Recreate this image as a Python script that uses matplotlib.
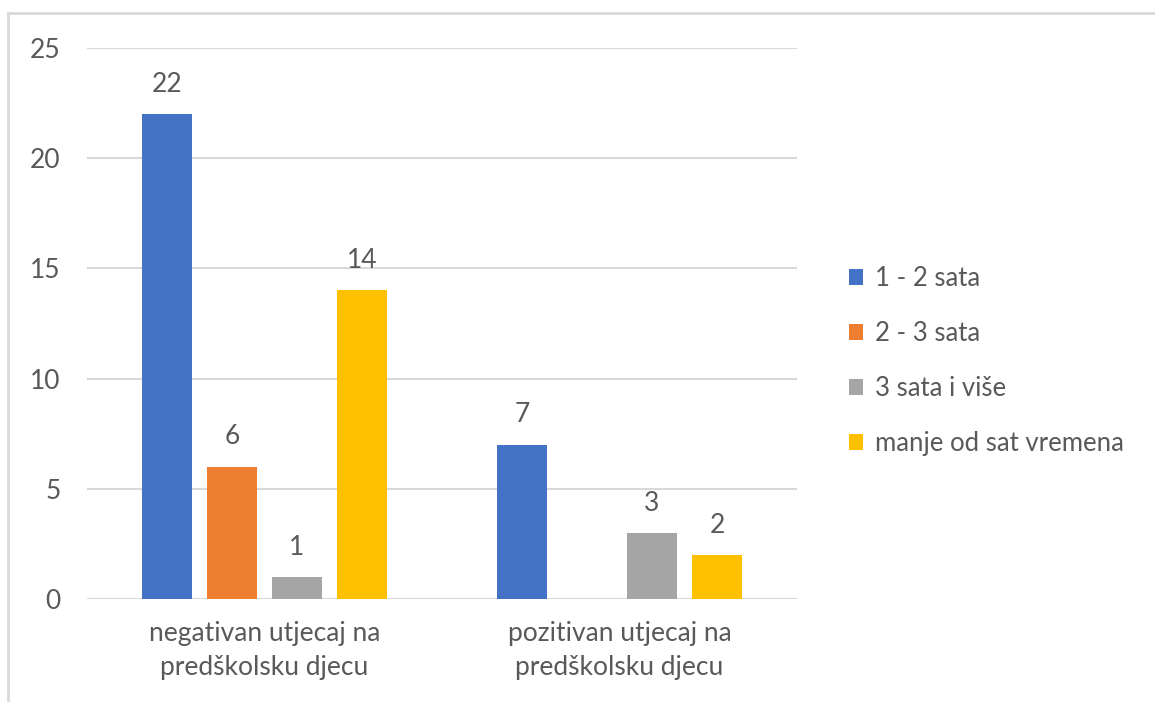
import matplotlib
matplotlib.use("Agg")
import matplotlib.pyplot as plt
import numpy as np
from matplotlib.patches import Rectangle

categories = ["negativan utjecaj na\npredškolsku djecu", "pozitivan utjecaj na\npredškolsku djecu"]
series_names = ["1 - 2 sata", "2 - 3 sata", "3 sata i više", "manje od sat vremena"]
series_values = [
    [22, 7],
    [6, np.nan],
    [1, 3],
    [14, 2],
]
colors = ["#4472C4", "#ED7D31", "#A5A5A5", "#FFC000"]
yticks = [0, 5, 10, 15, 20, 25]

plt.rcParams['font.family'] = ['Lato', 'DejaVu Sans']
txt = "#595959"
fs = 19

fig = plt.figure(figsize=(11.55, 7.02), dpi=100)
ax = fig.add_axes([87/1155, 1-599/702, 710/1155, 551/702])

x = np.arange(len(categories))
w = 50/355
pitch = 65/355
for i, (name, vals) in enumerate(zip(series_names, series_values)):
    off = (i - 1.5) * pitch
    ax.bar(x + off, vals, width=w, color=colors[i], label=name, zorder=3)
    for xi, v in zip(x + off, vals):
        if not np.isnan(v):
            ax.annotate(f"{int(v)}", (xi, v), xytext=(0, 12.5), textcoords="offset points",
                        ha="center", va="bottom", fontsize=fs, color=txt)

ax.set_xlim(-0.5, 1.5)
ax.set_ylim(0, 25)
ax.set_yticks(yticks)
ax.set_xticks(x)
ax.set_xticklabels(categories, fontsize=fs, color=txt, linespacing=1.45)
ax.tick_params(axis='y', labelsize=fs, labelcolor=txt, length=0, pad=19)
ax.tick_params(axis='x', length=0, pad=16)
ax.grid(axis='y', color="#D9D9D9", linewidth=1.5, zorder=0)
for s in ax.spines.values():
    s.set_visible(False)

leg = fig.legend(loc="center left", bbox_to_anchor=(826/1155, 1-361/702), frameon=False,
                 fontsize=18.5, labelcolor=txt, handlelength=0.55, handleheight=0.55,
                 labelspacing=1.17, handletextpad=0.45)

fig.patches.append(Rectangle((8/1155, -0.01), 1.02, 1 - 13/702 + 0.01, transform=fig.transFigure,
                             fill=False, edgecolor="#D9D9D9", linewidth=2))

fig.savefig("out.png", dpi=100)
